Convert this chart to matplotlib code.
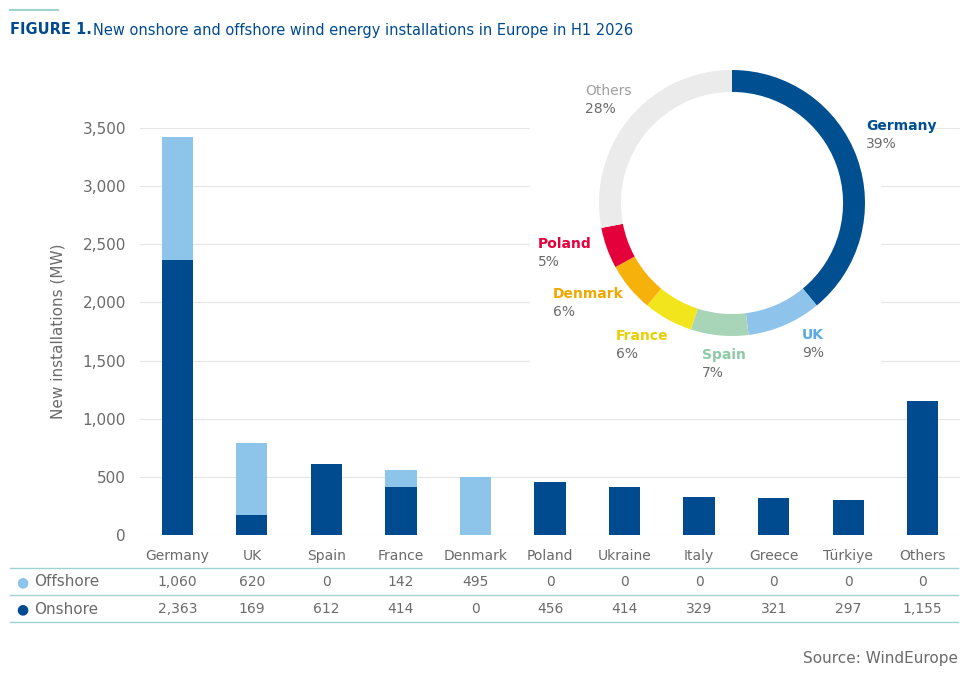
import matplotlib.pyplot as plt
import numpy as np

countries = ['Germany', 'UK', 'Spain', 'France', 'Denmark', 'Poland', 'Ukraine', 'Italy', 'Greece', 'Türkiye', 'Others']
offshore = [1060, 620, 0, 142, 495, 0, 0, 0, 0, 0, 0]
onshore = [2363, 169, 612, 414, 0, 456, 414, 329, 321, 297, 1155]

pie_labels = ['Germany', 'UK', 'Spain', 'France', 'Denmark', 'Poland', 'Others']
pie_shares = [39, 9, 7, 6, 6, 5, 28]
pie_colors = ['#004f91', '#8ec3ec', '#a8d5b8', '#f3e51c', '#f6b10a', '#e4003a', '#ebebeb']
label_colors = ['#004f91', '#5aaae6', '#8cc9a4', '#e8cf00', '#f0a800', '#e4003a', '#a0a0a0']

DARK = '#004a8f'
LIGHT = '#8cc4ea'
GREY = '#6b6b6b'
TEAL = '#9fd3cf'

W, H = 972, 676
fig = plt.figure(figsize=(W / 100, H / 100), dpi=100)

def fx(px): return px / W
def fy(py): return 1 - py / H

# main bar axes: y=0 at 535px, 3500 at 128px
ax = fig.add_axes([fx(140), fy(535), fx(960) - fx(140), fy(128) - fy(535)])
x = np.arange(len(countries))
ax.bar(x, onshore, width=0.42, color=DARK, zorder=3)
ax.bar(x, offshore, width=0.42, bottom=onshore, color=LIGHT, zorder=3)
ax.set_ylim(0, 3500)
ax.set_xlim(-0.5, len(countries) - 0.5)
ax.set_yticks(range(0, 3501, 500))
ax.set_yticklabels([f'{v:,}' for v in range(0, 3501, 500)], color=GREY, fontsize=11)
ax.yaxis.grid(True, color='#e6e6e6', lw=0.8, zorder=0)
ax.set_xticks(x)
ax.set_xticklabels(countries, color=GREY, fontsize=10)
ax.tick_params(length=0, pad=10)
for s in ax.spines.values():
    s.set_visible(False)
ax.set_ylabel('New installations (MW)', color=GREY, fontsize=11, labelpad=12)

# table rows
for yy in (568, 595, 622):
    fig.add_artist(plt.Line2D([fx(10), fx(958)], [fy(yy), fy(yy)], color=TEAL, lw=1))
rows = [('Offshore', offshore, LIGHT, 582), ('Onshore', onshore, DARK, 609)]
for name, vals, col, yy in rows:
    fig.text(fx(16), fy(yy), '●', color=col, fontsize=10, va='center')
    fig.text(fx(34), fy(yy), name, color=GREY, fontsize=11, va='center')
    for i, v in enumerate(vals):
        xd = ax.transData.transform((i, 0))[0]
        xf = fig.transFigure.inverted().transform((xd, 0))[0]
        fig.text(xf, fy(yy), f'{v:,}', color=GREY, fontsize=10, va='center', ha='center')

# white backdrop behind donut
fig.add_artist(plt.Rectangle((fx(530), fy(385)), fx(350), fy(60) - fy(385),
                             transform=fig.transFigure, color='white', zorder=1))

# donut
cx, cy, r_out = 732, 203, 133
pax = fig.add_axes([fx(cx - r_out), fy(cy + r_out), fx(2 * r_out), fy(cy - r_out) - fy(cy + r_out)])
pax.set_zorder(2)
pax.pie(pie_shares, colors=pie_colors, startangle=90, counterclock=False,
        wedgeprops=dict(width=0.165, edgecolor='none'))
pax.set_xlim(-1, 1)
pax.set_ylim(-1, 1)
pax.set_aspect('equal')
label_pos = {'Germany': (866, 126), 'UK': (802, 335), 'Spain': (702, 355),
             'France': (616, 336), 'Denmark': (553, 294), 'Poland': (538, 244),
             'Others': (585, 91)}
for lab, sh, c in zip(pie_labels, pie_shares, label_colors):
    px, py = label_pos[lab]
    fig.text(fx(px), fy(py), lab, color=c, fontsize=10, fontweight='bold' if lab != 'Others' else 'normal',
             va='center', ha='left', zorder=3)
    fig.text(fx(px), fy(py + 18), f'{sh}%', color=GREY, fontsize=10, va='center', ha='left', zorder=3)

# title
fig.add_artist(plt.Line2D([fx(10), fx(58)], [fy(10), fy(10)], color=TEAL, lw=1.5))
fig.text(fx(10), fy(30), 'FIGURE 1.', color=DARK, fontsize=10.5, fontweight='bold', va='center')
fig.text(fx(93), fy(30), 'New onshore and offshore wind energy installations in Europe in H1 2026',
         color=DARK, fontsize=10.5, va='center')
fig.text(fx(958), fy(659), 'Source: WindEurope', color=GREY, fontsize=11, ha='right', va='center')

fig.savefig('out.png', dpi=100, facecolor='white')
